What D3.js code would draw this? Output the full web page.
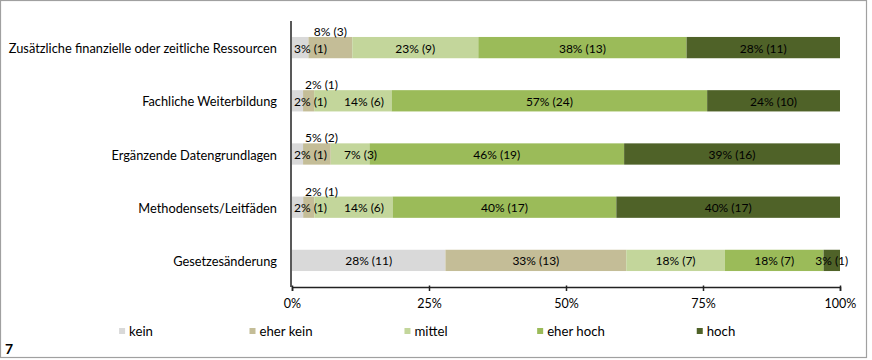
<!DOCTYPE html>
<html><head><meta charset="utf-8">
<script src="https://cdn.jsdelivr.net/npm/d3@7"></script>
<style>
html,body{margin:0;padding:0;background:#fff;}
svg{display:block;font-family:Lato,"Open Sans",sans-serif;}
</style></head>
<body>
<svg id="chart" width="872" height="360"></svg>
<script>
const categories = ["Zusätzliche finanzielle oder zeitliche Ressourcen","Fachliche Weiterbildung","Ergänzende Datengrundlagen","Methodensets/Leitfäden","Gesetzesänderung"];
const levels = ["kein","eher kein","mittel","eher hoch","hoch"];
const colors = ["#d9d9d9","#c4bd97","#c3d69b","#9bbb59","#4f6228"];
// percentages per level (as labelled)
const pctKein     = [3, 2, 2, 2, 28];
const pctEherKein = [8, 2, 5, 2, 33];
const pctMittel   = [23, 14, 7, 14, 18];
const pctEherHoch = [38, 57, 46, 40, 18];
const pctHoch     = [28, 24, 39, 40, 3];
// counts per level
const nKein     = [1, 1, 1, 1, 11];
const nEherKein = [3, 1, 2, 1, 13];
const nMittel   = [9, 6, 3, 6, 7];
const nEherHoch = [13, 24, 19, 17, 7];
const nHoch     = [11, 10, 16, 17, 1];
const tickValues = [0, 0.25, 0.5, 0.75, 1];
const tickLabels = ["0%","25%","50%","75%","100%"];

const pcts = [pctKein, pctEherKein, pctMittel, pctEherHoch, pctHoch];
const counts = [nKein, nEherKein, nMittel, nEherHoch, nHoch];
const table = categories.map((c, i) => {
  const row = {category: c};
  levels.forEach((l, j) => { row[l] = pcts[j][i]; row["n_" + l] = counts[j][i]; });
  return row;
});

const svg = d3.select("#chart");
// frame
svg.append("rect").attr("x",0.5).attr("y",0.5).attr("width",866).attr("height",357)
  .attr("fill","none").attr("stroke","#a0a0a0").attr("stroke-width",1.2);

const x = d3.scaleLinear().domain([0,1]).range([292, 840]);
const y = d3.scaleBand().domain(categories).range([21, 287]).paddingInner(0.6).paddingOuter(0.3);

const stack = d3.stack().keys(levels).offset(d3.stackOffsetExpand);
const series = stack(table);

const fs = 12;
const g = svg.append("g");
series.forEach((s, j) => {
  g.selectAll(null).data(s).enter().append("rect")
    .attr("x", d => x(d[0]))
    .attr("y", d => y(d.data.category))
    .attr("width", d => x(d[1]) - x(d[0]))
    .attr("height", y.bandwidth())
    .attr("fill", colors[j]);
});

// labels (row by row, with simple overlap avoidance)
categories.forEach((c, i) => {
  let prevEnd = -Infinity;
  series.forEach((s, j) => {
    const key = levels[j];
    const d = s[i];
    const val = d.data[key], n = d.data["n_" + key];
    const t = g.append("text").text(val + "% (" + n + ")")
      .attr("font-size", fs).attr("fill","#000").attr("text-anchor","middle")
      .attr("dominant-baseline","central");
    const w = t.node().getComputedTextLength();
    const cx = (x(d[0]) + x(d[1])) / 2;
    const yc = y(c) + y.bandwidth()/2;
    if (key === "eher kein" && val < 10) {
      t.attr("x", Math.max(cx, x(0) + 13 + w/2)).attr("y", y(c) - 5.5);
    } else {
      let px = Math.max(cx, x(0) + 2 + w/2, prevEnd + 17 + w/2);
      t.attr("x", px).attr("y", yc + 0.5);
      prevEnd = px + w/2;
    }
  });
});

// axes
const yAxisG = svg.append("g");
yAxisG.append("line").attr("x1",291).attr("x2",291).attr("y1",y.range()[0]).attr("y2",y.range()[1])
  .attr("stroke","#222").attr("stroke-width",1.5);
categories.forEach(c => {
  yAxisG.append("text").attr("x",277).attr("y", y(c) + y.bandwidth()/2 + 0.5)
    .attr("text-anchor","end").attr("dominant-baseline","central")
    .attr("font-size",12.8).attr("fill","#000").text(c);
});

const xAxis = d3.axisBottom(x).tickValues(tickValues).tickFormat((d,i) => tickLabels[i]).tickSizeOuter(0).tickSize(4).tickPadding(8);
const xg = svg.append("g").attr("transform","translate(0,287)").call(xAxis);
xg.select(".domain").attr("stroke","#222").attr("stroke-width",1.5);
xg.selectAll(".tick line").attr("stroke","#222").attr("stroke-width",1.5).attr("y1",-1.5);
xg.selectAll(".tick text").attr("font-size",12.5).attr("fill","#000").attr("font-family","Lato,sans-serif");

// legend
const lx = d3.scalePoint().domain(levels).range([136, 716]);
levels.forEach((l, j) => {
  const lg = svg.append("g");
  const t = lg.append("text").text(l).attr("font-size",13.2).attr("fill","#000")
    .attr("dominant-baseline","central").attr("y",331);
  const w = t.node().getComputedTextLength();
  const total = 6 + 4 + w;
  const x0 = lx(l) - total/2;
  lg.append("rect").attr("x",x0).attr("y",328).attr("width",6).attr("height",6).attr("fill",colors[j]);
  t.attr("x", x0 + 10);
});

svg.append("text").attr("x",5).attr("y",348).attr("font-size",14).attr("font-weight","bold")
  .attr("dominant-baseline","central").attr("fill","#000").text("7");
</script>
</body></html>
